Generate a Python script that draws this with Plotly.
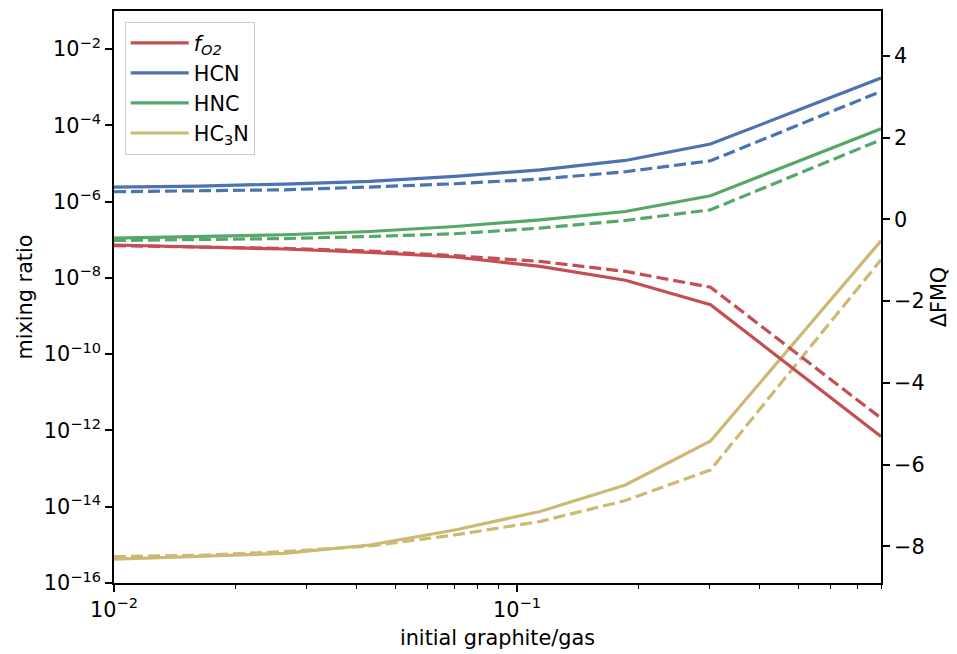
import plotly.graph_objects as go

# initial graphite/gas ratio (log-spaced sampling)
x_ratio = [0.01, 0.01627, 0.02648, 0.04309, 0.07013, 0.1141, 0.1857, 0.3021, 0.4916, 0.8]

# Delta FMQ (right axis)
fo2_solid = [-0.627, -0.676, -0.725, -0.808, -0.921, -1.151, -1.489, -2.089, -3.70, -5.315]
fo2_dashed = [-0.644, -0.676, -0.710, -0.774, -0.889, -1.029, -1.274, -1.661, -3.262, -4.864]

# mixing ratios (left axis)
hcn_solid = [2.42e-6, 2.56e-6, 2.90e-6, 3.39e-6, 4.58e-6, 6.85e-6, 1.205e-5, 3.24e-5, 2.38e-4, 1.75e-3]
hcn_dashed = [1.82e-6, 1.90e-6, 2.05e-6, 2.42e-6, 2.95e-6, 3.92e-6, 6.10e-6, 1.18e-5, 9.6e-5, 7.80e-4]
hnc_solid = [1.11e-7, 1.22e-7, 1.355e-7, 1.65e-7, 2.23e-7, 3.35e-7, 5.53e-7, 1.43e-6, 1.08e-5, 8.18e-5]
hnc_dashed = [9.6e-8, 1.0e-7, 1.08e-7, 1.22e-7, 1.44e-7, 2.03e-7, 3.21e-7, 6.12e-7, 5.08e-6, 4.21e-5]
hc3n_solid = [4.19e-16, 4.90e-16, 6.01e-16, 9.93e-16, 2.46e-15, 7.52e-15, 3.73e-14, 5.32e-13, 2.24e-10, 9.42e-8]
hc3n_dashed = [4.90e-16, 5.33e-16, 6.62e-16, 9.35e-16, 1.82e-15, 4.11e-15, 1.45e-14, 9.23e-14, 5.25e-11, 2.99e-8]

left_tickvals = [1e-16, 1e-14, 1e-12, 1e-10, 1e-8, 1e-6, 1e-4, 1e-2]
left_ticktext = ["10<sup>\u221216</sup>", "10<sup>\u221214</sup>", "10<sup>\u221212</sup>", "10<sup>\u221210</sup>",
                 "10<sup>\u22128</sup>", "10<sup>\u22126</sup>", "10<sup>\u22124</sup>", "10<sup>\u22122</sup>"]
right_tickvals = [-8, -6, -4, -2, 0, 2, 4]
right_ticktext = ["\u22128", "\u22126", "\u22124", "\u22122", "0", "2", "4"]
x_tickvals = [0.01, 0.1]
x_ticktext = ["10<sup>\u22122</sup>", "10<sup>\u22121</sup>"]
x_minor = [0.02, 0.03, 0.04, 0.05, 0.06, 0.07, 0.08, 0.09, 0.2, 0.3, 0.4, 0.5, 0.6, 0.7, 0.8]

RED = "#C44E52"
BLUE = "#4C72B0"
GREEN = "#55A868"
GOLD = "#CCB974"
LW = 3.2
DASH = "12px,5px"
FONT = "DejaVu Sans, Liberation Sans, sans-serif"
FS = 20.8

fig = go.Figure()

series = [
    ("<i>f</i><sub><i>O2</i></sub>", fo2_solid, fo2_dashed, RED, "y2"),
    ("HCN", hcn_solid, hcn_dashed, BLUE, "y"),
    ("HNC", hnc_solid, hnc_dashed, GREEN, "y"),
    ("HC<sub>3</sub>N", hc3n_solid, hc3n_dashed, GOLD, "y"),
]

for name, ys, yd, col, ax in series:
    fig.add_trace(go.Scatter(x=x_ratio, y=ys, mode="lines", name=name, yaxis=ax,
                             line=dict(color=col, width=LW)))
    fig.add_trace(go.Scatter(x=x_ratio, y=yd, mode="lines", name=name, yaxis=ax,
                             showlegend=False,
                             line=dict(color=col, width=LW, dash=DASH)))

axis_common = dict(showline=True, linecolor="black", linewidth=1.7, ticks="outside",
                   ticklen=7, tickwidth=1.7, tickcolor="black", showgrid=False,
                   zeroline=False, automargin=False,
                   tickfont=dict(size=FS, color="black", family=FONT))

# the page body has an 8px default margin, so the figure is sized to fit the window
fig.update_layout(
    width=949, height=646,
    margin=dict(l=106, r=76, t=3, b=71),
    paper_bgcolor="white", plot_bgcolor="white",
    font=dict(family=FONT, size=FS, color="black"),
    xaxis=dict(type="log", range=[-2, -0.09691], tickvals=x_tickvals, ticktext=x_ticktext,
               mirror=True,
               minor=dict(tickvals=x_minor, ticks="outside", ticklen=4, tickwidth=1.2, tickcolor="black"),
               title=dict(text="initial graphite/gas", font=dict(size=FS, family=FONT), standoff=10),
               **axis_common),
    yaxis=dict(type="log", range=[-16, -1], tickvals=left_tickvals, ticktext=left_ticktext,
               title=dict(text="mixing ratio", font=dict(size=FS, family=FONT), standoff=6),
               **axis_common),
    yaxis2=dict(overlaying="y", side="right", range=[-8.9, 5.1], tickvals=right_tickvals,
                ticktext=right_ticktext,
                title=dict(text="\u0394FMQ", font=dict(size=FS, family=FONT), standoff=8),
                **axis_common),
    legend=dict(x=0.014, y=0.981, xanchor="left", yanchor="top",
                bgcolor="rgba(255,255,255,0.8)", bordercolor="#cccccc", borderwidth=1,
                font=dict(size=FS, family=FONT), itemwidth=58),
)

fig.write_html("out.html")
